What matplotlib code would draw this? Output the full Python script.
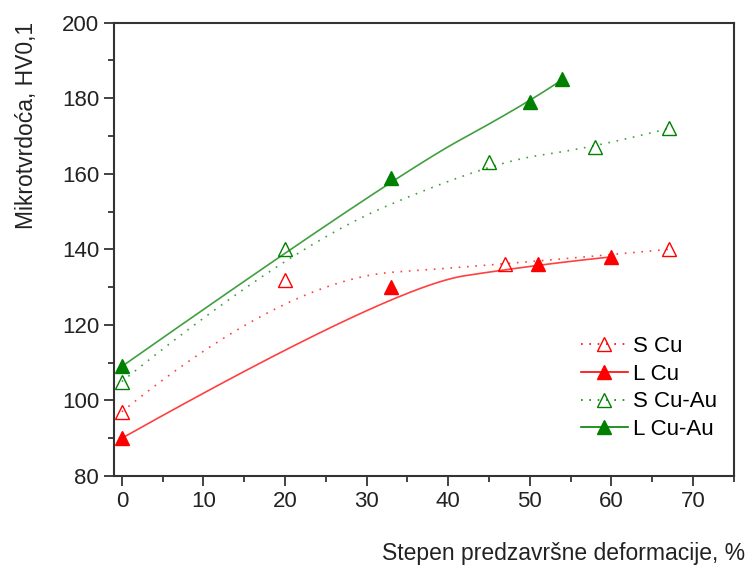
#!/usr/bin/env python3

import numpy as np
import matplotlib

matplotlib.use("Agg")
import matplotlib.pyplot as plt
from matplotlib.ticker import MultipleLocator

plt.rcParams["font.family"] = ["Liberation Sans", "DejaVu Sans"]

# deformation degree, %  /  microhardness HV0,1
s_cu_x = [0, 20, 47, 67]
s_cu_y = [97, 132, 136, 140]
l_cu_x = [0, 33, 51, 60]
l_cu_y = [90, 130, 136, 138]
s_cuau_x = [0, 20, 45, 58, 67]
s_cuau_y = [105, 140, 163, 167, 172]
l_cuau_x = [0, 33, 50, 54]
l_cuau_y = [109, 159, 179, 185]

labels = ["S Cu", "L Cu", "S Cu-Au", "L Cu-Au"]

RED = "#ff0000"
GREEN = "#008000"


def bspline(xs, ys, k=2, n=200):
    # clamped B-spline with the data points as control points
    pts = np.column_stack([xs, ys]).astype(float)
    k = min(k, len(pts) - 1)
    m = len(pts) - k - 1
    knots = np.concatenate([np.zeros(k + 1), np.linspace(0, 1, m + 2)[1:-1], np.ones(k + 1)])

    def basis(i, p, t):
        if p == 0:
            if knots[i] <= t < knots[i + 1] or (t == 1.0 and knots[i + 1] == 1.0 and knots[i] < 1.0):
                return 1.0
            return 0.0
        a = 0.0
        if knots[i + p] != knots[i]:
            a = (t - knots[i]) / (knots[i + p] - knots[i]) * basis(i, p - 1, t)
        b = 0.0
        if knots[i + p + 1] != knots[i + 1]:
            b = (knots[i + p + 1] - t) / (knots[i + p + 1] - knots[i + 1]) * basis(i + 1, p - 1, t)
        return a + b

    out = []
    for t in np.linspace(0, 1, n):
        w = np.array([basis(i, k, t) for i in range(len(pts))])
        out.append(w @ pts)
    out = np.array(out)
    return out[:, 0], out[:, 1]


fig = plt.figure(figsize=(7.48, 5.67), dpi=100)
ax = fig.add_axes([0.152, 0.1605, 0.829, 0.7995])

series = [
    (s_cu_x, s_cu_y, RED, (0, (1, 4)), "none"),
    (l_cu_x, l_cu_y, RED, "-", RED),
    (s_cuau_x, s_cuau_y, GREEN, (0, (1, 4)), "none"),
    (l_cuau_x, l_cuau_y, GREEN, "-", GREEN),
]

handles = []
for (xs, ys, col, ls, fc), lab in zip(series, labels):
    cx, cy = bspline(xs, ys)
    ax.plot(cx, cy, color=col, linestyle=ls, lw=1.2, alpha=0.75)
    ax.plot(xs, ys, linestyle="none", marker="^", markersize=10,
            markerfacecolor=fc, markeredgecolor=col, markeredgewidth=1.0)
    h, = ax.plot([], [], color=col, linestyle=ls, lw=1.2, marker="^", markersize=10,
                 markerfacecolor=fc, markeredgecolor=col, markeredgewidth=1.0)
    handles.append(h)

ax.set_xlim(-1, 75)
ax.set_ylim(80, 200)
ax.xaxis.set_major_locator(MultipleLocator(10))
ax.xaxis.set_minor_locator(MultipleLocator(5))
ax.yaxis.set_major_locator(MultipleLocator(20))
ax.yaxis.set_minor_locator(MultipleLocator(10))
ax.tick_params(which="both", direction="out", top=False, right=False,
               width=1.2, colors="#222222", labelsize=16, labelcolor="#222222")
ax.tick_params(which="major", length=7)
ax.tick_params(which="minor", length=4)
for sp in ax.spines.values():
    sp.set_linewidth(1.5)
    sp.set_color("#333333")

fig.text(0.996, 0.004, "Stepen predzavršne deformacije, %", ha="right", va="bottom",
         fontsize=16.5, color="#222222")
fig.text(0.036, 0.962, "Mikrotvrdoća, HV0,1", rotation=90, ha="center", va="top",
         fontsize=16.5, color="#222222")

ax.legend(handles, labels, loc="lower right", bbox_to_anchor=(0.995, 0.05), frameon=False,
          fontsize=16, handlelength=2.1, handletextpad=0.25, labelspacing=0.3,
          borderaxespad=0.2)

fig.savefig("out.png", dpi=100)
